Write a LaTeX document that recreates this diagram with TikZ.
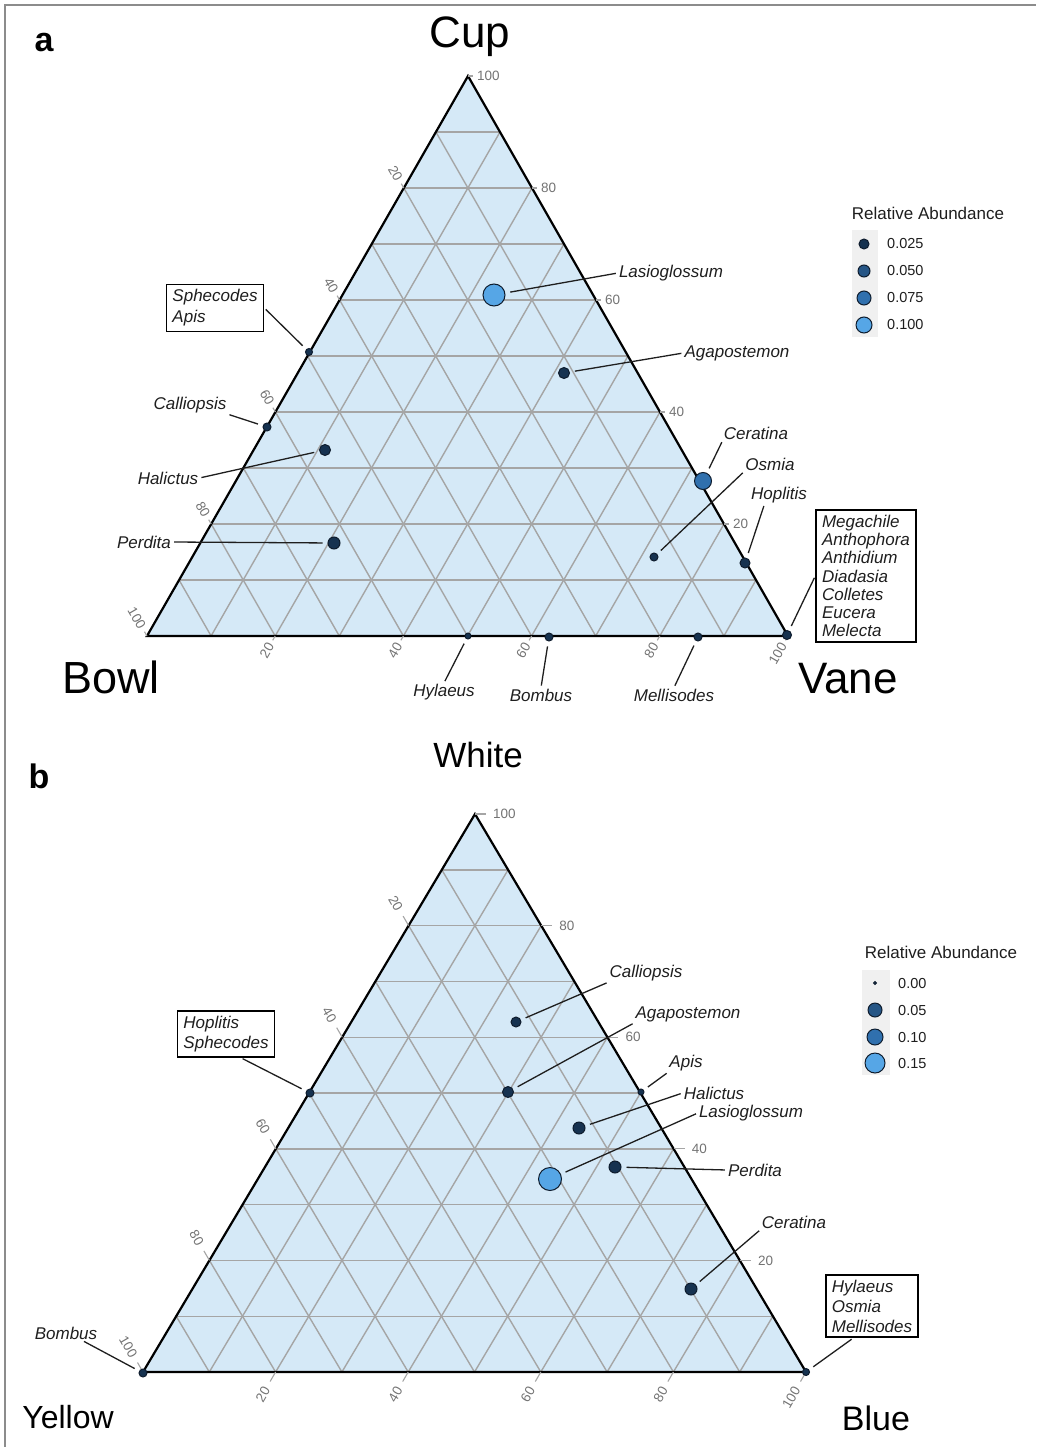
\documentclass[tikz,border=0pt]{standalone}
\usepackage{fontspec}
\setmainfont{Liberation Sans}
\usetikzlibrary{calc,positioning}

\definecolor{triFill}{RGB}{213,233,247}
\definecolor{gridGray}{RGB}{165,165,165}
\definecolor{frameGray}{RGB}{140,140,140}
\definecolor{tickGray}{RGB}{115,115,115}
\definecolor{labText}{RGB}{30,30,30}
\definecolor{dotLine}{RGB}{14,28,45}
\definecolor{abDark}{RGB}{22,50,80}
\definecolor{abMid}{RGB}{38,86,134}
\definecolor{abMidB}{RGB}{48,112,174}
\definecolor{abLight}{RGB}{86,166,230}
\definecolor{keyGray}{RGB}{240,240,240}

\begin{document}
\begin{tikzpicture}[x=1pt,y=-1pt,
    rim/.style={draw=black,line width=2.2pt,line join=miter},
    gridline/.style={draw=gridGray,line width=1.4pt},
    tickline/.style={draw=gridGray,line width=1.1pt},
    tlab/.style={font=\fontsize{13.5}{14}\selectfont,text=tickGray,inner sep=0pt},
    dot/.style={circle,draw=dotLine,line width=1pt,inner sep=0pt,minimum size=#1},
    bee/.style={font=\fontsize{17}{19}\selectfont\itshape,text=labText,inner sep=1pt},
    beebox/.style={draw=black,line width=1.6pt,align=left,inner xsep=6pt,inner ysep=5pt,
        text=labText,font=\fontsize{17}{#1}\selectfont\itshape},
    lead/.style={draw=labText,line width=1.3pt,shorten <=5pt,shorten >=2pt},
    axtitle/.style={font=\fontsize{#1}{#1}\selectfont,anchor=base},
    panel/.style={font=\fontsize{34}{34}\selectfont\bfseries},
    keytitle/.style={font=\fontsize{17}{18}\selectfont,text=labText},
    keytext/.style={font=\fontsize{14.5}{15}\selectfont,text=labText,anchor=west,inner sep=0pt}]

\useasboundingbox (0,0) rectangle (1036,1447);
\draw[frameGray,line width=1.5pt] (5,1447) -- (5,5) -- (1036,5);

% ---------------- panel a: flower shape ----------------
\coordinate (aL) at (147,636);
\coordinate (aR) at (788,636);
\coordinate (aT) at (468,76);

\fill[triFill] (aL) -- (aR) -- (aT) -- cycle;
\foreach \k in {1,...,9}{
  \draw[gridline] ($(aL)!\k/10!(aT)$) -- ($(aR)!\k/10!(aT)$);
  \draw[gridline] ($(aL)!\k/10!(aR)$) -- ($(aT)!\k/10!(aR)$);
  \draw[gridline] ($(aR)!\k/10!(aL)$) -- ($(aT)!\k/10!(aL)$);
}
\draw[rim] (aL) -- (aR) -- (aT) -- cycle;

% axis ticks
\foreach \v in {20,40,...,100}{
  \draw[tickline] ($(aR)!\v/100!(aT)$) -- ++(5,0);
  \node[tlab,anchor=west] (aCup\v) at ($(aR)!\v/100!(aT)+(9,0)$) {\v};
  \draw[tickline] ($(aT)!\v/100!(aL)$) -- ++(-2.5,-4.3);
  \node[tlab,rotate=-60,anchor=east] (aBowl\v) at ($(aT)!\v/100!(aL)+(-4.5,-7.8)$) {\v};
  \draw[tickline] ($(aL)!\v/100!(aR)$) -- ++(-2.5,4.3);
  \node[tlab,rotate=60,anchor=east] (aVane\v) at ($(aL)!\v/100!(aR)+(-4.5,7.8)$) {\v};
}

\node[panel] (aTag) at (44,43) {a};
\node[axtitle=44] (aCup) at (470,48) {Cup};
\node[axtitle=45] (aBowl) at (111,693) {Bowl};
\node[axtitle=44] (aVane) at (848,693) {Vane};

% the bees
\node[dot=22pt,fill=abLight] (pLas) at (494,295) {};
\node[dot=11pt,fill=abDark] (pAga) at (564,373) {};
\node[dot=7pt,fill=abDark] (pSph) at (309,352) {};
\node[dot=8pt,fill=abDark] (pCal) at (267,427) {};
\node[dot=11pt,fill=abDark] (pHal) at (325,450) {};
\node[dot=12pt,fill=abDark] (pPer) at (334,543) {};
\node[dot=17pt,fill=abMidB] (pCer) at (703,481) {};
\node[dot=8pt,fill=abDark] (pOsm) at (654,557) {};
\node[dot=10pt,fill=abDark] (pHop) at (745,563) {};
\node[dot=9pt,fill=abDark] (pMeg) at (787,635) {};
\node[dot=6pt,fill=abDark] (pHyl) at (468,636) {};
\node[dot=8pt,fill=abDark] (pBom) at (549,637) {};
\node[dot=8pt,fill=abDark] (pMel) at (698,637) {};

\node[bee] (lLas) at (671,273) {Lasioglossum};
\node[bee] (lAga) at (737,353) {Agapostemon};
\node[beebox=21pt] (bSph) at (215,308) {Sphecodes\\Apis};
\node[bee] (lCal) at (190,405) {Calliopsis};
\node[bee] (lHal) at (168,478) {Halictus};
\node[bee] (lPer) at (144,542) {Perdita};
\node[bee] (lCer) at (756,433) {Ceratina};
\node[bee] (lOsm) at (770,464) {Osmia};
\node[bee] (lHop) at (779,495) {Hoplitis};
\node[beebox=18.3pt] (bMeg) at (866,576) {Megachile\\Anthophora\\Anthidium\\Diadasia\\Colletes\\Eucera\\Melecta};
\node[bee] (lHyl) at (444,692) {Hylaeus};
\node[bee] (lBom) at (541,695) {Bombus};
\node[bee] (lMel) at (674,695) {Mellisodes};

\draw[lead] (pLas) -- (lLas.west);
\draw[lead] (pAga) -- (lAga.west);
\draw[lead] (pSph) -- (bSph.east);
\draw[lead] (pCal) -- (lCal.south east);
\draw[lead] (pHal) -- (lHal.east);
\draw[lead] (pPer) -- (lPer.east);
\draw[lead] (pCer) -- (lCer.south west);
\draw[lead] (pOsm) -- (lOsm.south west);
\draw[lead] (pHop) -- ($(lHop.south)!0.5!(lHop.south west)$);
\draw[lead] (pMeg) -- (bMeg.west);
\draw[lead] (pHyl) -- (lHyl.north);
\draw[lead] (pBom) -- (lBom.north);
\draw[lead] (pMel) -- (lMel.north);

% legend
\node[keytitle] (aKeyT) at (928,213) {Relative Abundance};
\fill[keyGray] (852,230) rectangle (878,337);
\node[dot=10pt,fill=abDark] (aK1) at (864,244) {};
\node[dot=12pt,fill=abMid] (aK2) at (864,271) {};
\node[dot=14pt,fill=abMidB] (aK3) at (864,298) {};
\node[dot=16pt,fill=abLight] (aK4) at (864,325) {};
\node[keytext] (aK1t) at (887,244) {0.025};
\node[keytext] (aK2t) at (887,271) {0.050};
\node[keytext] (aK3t) at (887,298) {0.075};
\node[keytext] (aK4t) at (887,325) {0.100};

% ---------------- panel b: flower colour ----------------
\coordinate (bL) at (143,1372);
\coordinate (bR) at (806,1372);
\coordinate (bT) at (475,814);

\fill[triFill] (bL) -- (bR) -- (bT) -- cycle;
\foreach \k in {1,...,9}{
  \draw[gridline] ($(bL)!\k/10!(bT)$) -- ($(bR)!\k/10!(bT)$);
  \draw[gridline] ($(bL)!\k/10!(bR)$) -- ($(bT)!\k/10!(bR)$);
  \draw[gridline] ($(bR)!\k/10!(bL)$) -- ($(bT)!\k/10!(bL)$);
}
\draw[rim] (bL) -- (bR) -- (bT) -- cycle;

% axis ticks
\foreach \v in {20,40,...,100}{
  \draw[tickline] ($(bR)!\v/100!(bT)$) -- ++(11,0);
  \node[tlab,anchor=west] (bWhite\v) at ($(bR)!\v/100!(bT)+(18,0)$) {\v};
  \draw[tickline] ($(bT)!\v/100!(bL)$) -- ++(-5.5,-9.5);
  \node[tlab,rotate=-60,anchor=east] (bYel\v) at ($(bT)!\v/100!(bL)+(-9,-15.6)$) {\v};
  \draw[tickline] ($(bL)!\v/100!(bR)$) -- ++(-5.5,9.5);
  \node[tlab,rotate=60,anchor=east] (bBlue\v) at ($(bL)!\v/100!(bR)+(-9,15.6)$) {\v};
}

\node[panel] (bTag) at (39,776) {b};
\node[axtitle=35] (bWhite) at (478,767) {White};
\node[axtitle=32] (bYellow) at (68,1428) {Yellow};
\node[axtitle=34] (bBlue) at (876,1430) {Blue};

% the bees
\node[dot=10pt,fill=abDark] (qCal) at (516,1022) {};
\node[dot=11pt,fill=abDark] (qAga) at (508,1092) {};
\node[dot=8pt,fill=abDark] (qHop) at (310,1093) {};
\node[dot=6pt,fill=abDark] (qApi) at (641,1092) {};
\node[dot=12pt,fill=abDark] (qHal) at (579,1128) {};
\node[dot=23pt,fill=abLight] (qLas) at (550,1179) {};
\node[dot=12pt,fill=abDark] (qPer) at (615,1167) {};
\node[dot=12pt,fill=abDark] (qCer) at (691,1289) {};
\node[dot=7pt,fill=abDark] (qHyl) at (806,1372) {};
\node[dot=8pt,fill=abDark] (qBom) at (143,1373) {};

\node[bee] (mCal) at (646,973) {Calliopsis};
\node[bee] (mAga) at (688,1014) {Agapostemon};
\node[beebox=20pt] (bHop) at (226,1034) {Hoplitis\\Sphecodes};
\node[bee] (mApi) at (686,1063) {Apis};
\node[bee] (mHal) at (714,1093) {Halictus};
\node[bee] (mLas) at (751,1113) {Lasioglossum};
\node[bee] (mPer) at (755,1170) {Perdita};
\node[bee] (mCer) at (794,1222) {Ceratina};
\node[beebox=20pt] (bHyl) at (872,1306) {Hylaeus\\Osmia\\Mellisodes};
\node[bee] (mBom) at (66,1333) {Bombus};

\draw[lead] (qCal) -- (mCal.south west);
\draw[lead] (qAga) -- (mAga.south west);
\draw[lead] (qHop) -- ($(bHop.south)!0.3!(bHop.south east)$);
\draw[lead] (qApi) -- (mApi.south west);
\draw[lead] (qHal) -- (mHal.west);
\draw[lead] (qLas) -- (mLas.west);
\draw[lead] (qPer) -- (mPer.west);
\draw[lead] (qCer) -- (mCer.south west);
\draw[lead] (qHyl) -- ($(bHyl.south)!0.4!(bHyl.south west)$);
\draw[lead] (qBom) -- ($(mBom.south)!0.5!(mBom.south east)$);

% legend
\node[keytitle] (bKeyT) at (941,952) {Relative Abundance};
\fill[keyGray] (862,970) rectangle (890,1075);
\node[dot=3pt,fill=abDark] (bK1) at (875,983) {};
\node[dot=14pt,fill=abMid] (bK2) at (875,1010) {};
\node[dot=16pt,fill=abMidB] (bK3) at (875,1037) {};
\node[dot=20pt,fill=abLight] (bK4) at (875,1063) {};
\node[keytext] (bK1t) at (898,983) {0.00};
\node[keytext] (bK2t) at (898,1010) {0.05};
\node[keytext] (bK3t) at (898,1037) {0.10};
\node[keytext] (bK4t) at (898,1063) {0.15};

\end{tikzpicture}
\end{document}
